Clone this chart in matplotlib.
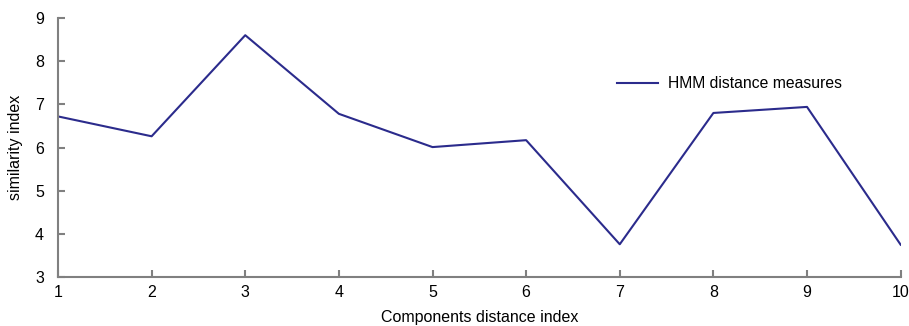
import numpy as np
import matplotlib
matplotlib.use("Agg")
import matplotlib.pyplot as plt

plt.rcParams['font.family'] = ['Liberation Sans', 'DejaVu Sans']

# Data
index = np.arange(1, 11)
similarity = [6.72, 6.26, 8.60, 6.78, 6.01, 6.17, 3.76, 6.80, 6.94, 3.75]

fig = plt.figure(figsize=(9.09, 3.26), dpi=100)
ax = fig.add_axes([0.0638, 0.150, 0.927, 0.795])

ax.plot(index, similarity, color='#2b2b8c', linewidth=1.5, label='HMM distance measures')

ax.set_xlim(1, 10)
ax.set_ylim(3, 9)
ax.set_xticks(index)
ax.set_yticks(range(3, 10))

for s in ['top', 'right']:
    ax.spines[s].set_visible(False)
for s in ['left', 'bottom']:
    ax.spines[s].set_color('#808080')
    ax.spines[s].set_linewidth(1.5)
ax.tick_params(direction='in', length=5, width=1.5, color='#808080', labelsize=11.5)
ax.tick_params(axis='x', pad=6)
ax.tick_params(axis='y', pad=10)

ax.set_xlabel('Components distance index', fontsize=11.5, labelpad=7)
ax.set_ylabel('similarity index', fontsize=11.5, labelpad=9)

ax.legend(loc='upper left', bbox_to_anchor=(0.647, 0.83), frameon=False, fontsize=11.3,
          handlelength=2.6, handletextpad=0.6)

fig.savefig('out.png', dpi=100)
